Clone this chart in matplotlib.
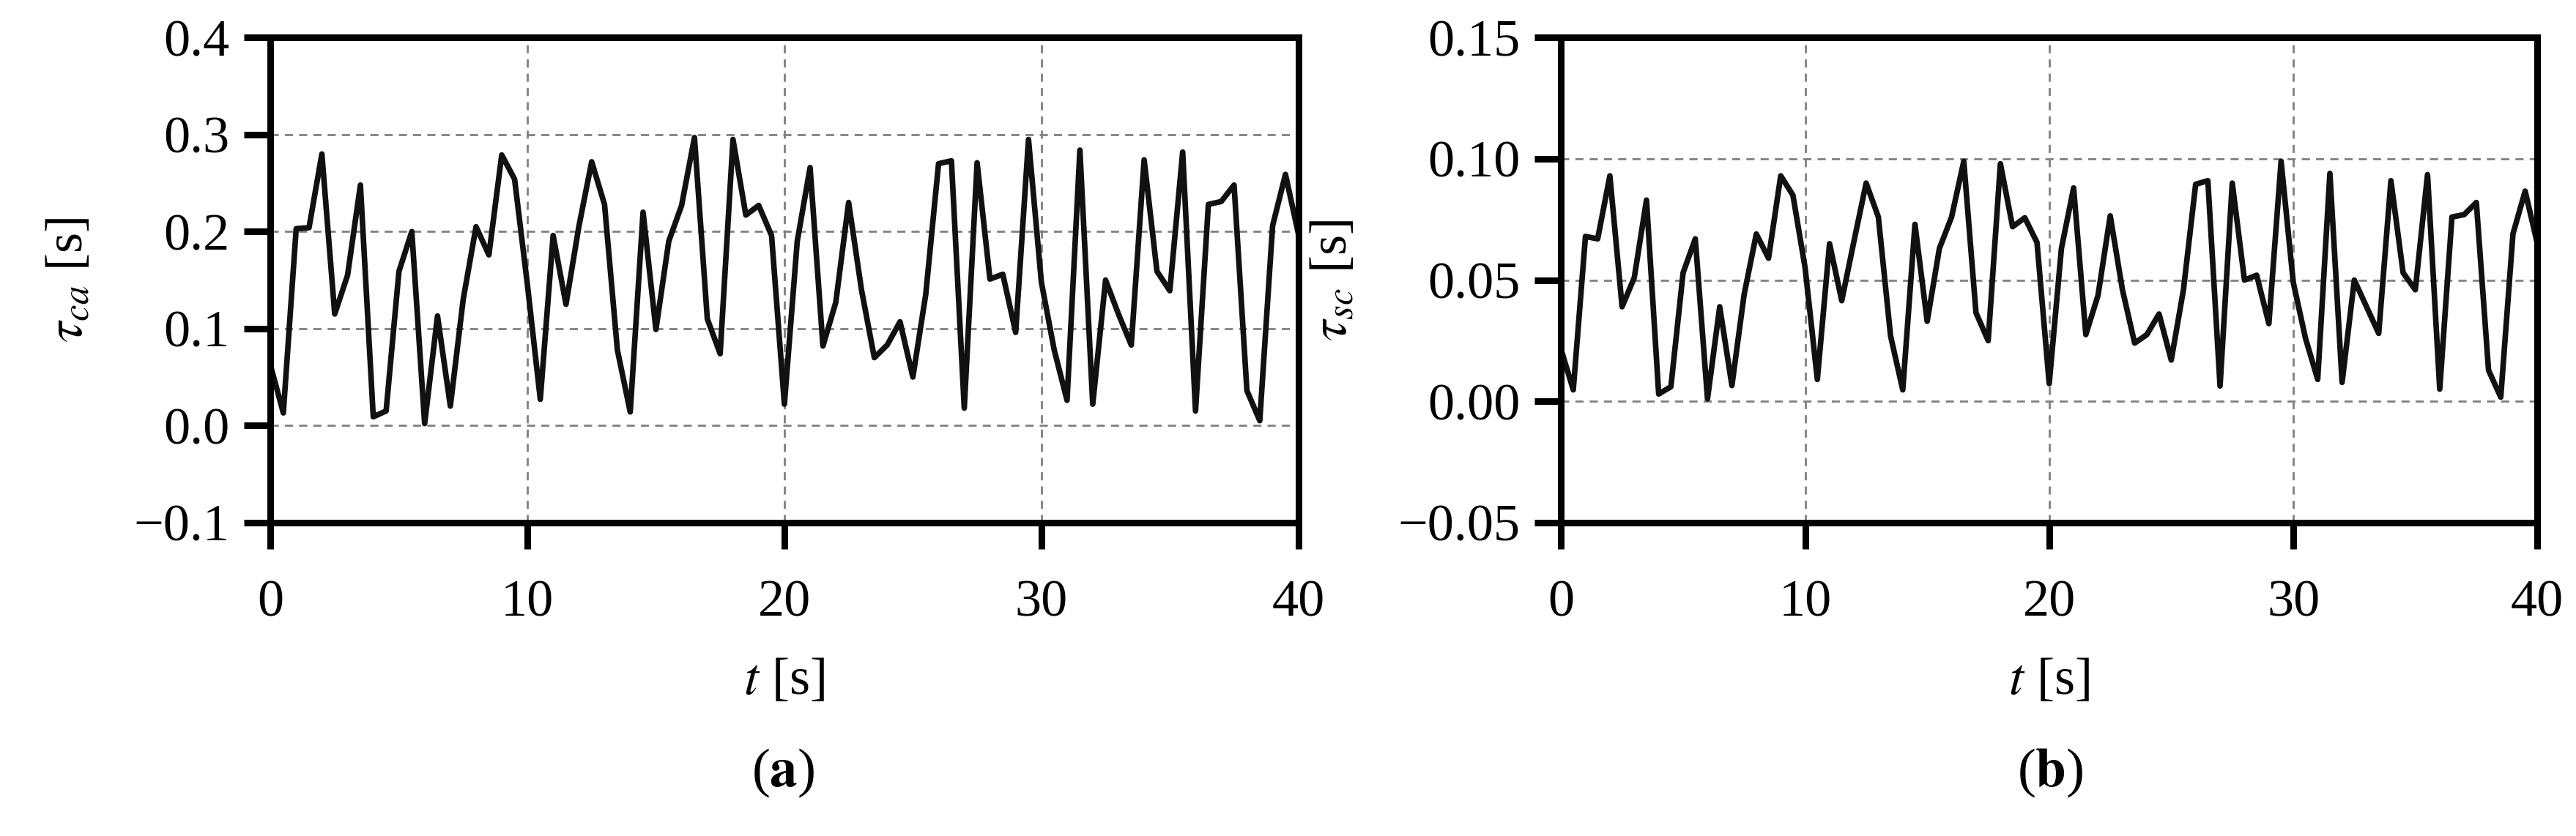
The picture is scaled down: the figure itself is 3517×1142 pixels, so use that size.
"""Two delay traces, tau_ca and tau_sc, over 40 s."""

import matplotlib
matplotlib.use("Agg")
import matplotlib.pyplot as plt
import numpy as np

plt.rcParams["font.family"] = ["Liberation Serif", "DejaVu Serif"]
plt.rcParams["mathtext.fontset"] = "stix"

t = np.arange(0, 40.01, 0.5)

tau_ca = [
    0.062, 0.013, 0.203, 0.204, 0.280, 0.115, 0.155, 0.248, 0.009, 0.015,
    0.159, 0.200, 0.002, 0.113, 0.020, 0.130, 0.205, 0.176, 0.279, 0.254,
    0.145, 0.027, 0.196, 0.125, 0.205, 0.272, 0.228, 0.078, 0.014, 0.220,
    0.099, 0.190, 0.227, 0.297, 0.110, 0.074, 0.295, 0.217, 0.227, 0.196,
    0.022, 0.190, 0.266, 0.082, 0.127, 0.230, 0.140, 0.070, 0.083, 0.107,
    0.050, 0.135, 0.270, 0.273, 0.018, 0.271, 0.151, 0.156, 0.096, 0.295,
    0.148, 0.078, 0.026, 0.284, 0.022, 0.150, 0.115, 0.083, 0.274, 0.159,
    0.139, 0.282, 0.015, 0.228, 0.231, 0.248, 0.036, 0.005, 0.206, 0.259,
    0.198,
]

tau_sc = [
    0.0214, 0.0047, 0.068, 0.067, 0.093, 0.039, 0.051, 0.083, 0.003, 0.006,
    0.053, 0.067, 0.001, 0.039, 0.0065, 0.044, 0.069, 0.059, 0.093, 0.085,
    0.055, 0.009, 0.065, 0.0415, 0.066, 0.090, 0.076, 0.027, 0.0047, 0.073,
    0.033, 0.063, 0.076, 0.099, 0.0365, 0.025, 0.098, 0.072, 0.0757, 0.0655,
    0.0073, 0.063, 0.088, 0.0275, 0.0437, 0.0765, 0.046, 0.024, 0.0275, 0.036,
    0.017, 0.046, 0.0895, 0.091, 0.0063, 0.090, 0.050, 0.052, 0.032, 0.099,
    0.049, 0.026, 0.009, 0.094, 0.0078, 0.050, 0.039, 0.028, 0.091, 0.053,
    0.046, 0.0935, 0.005, 0.076, 0.077, 0.082, 0.0128, 0.0017, 0.069, 0.0867,
    0.065,
]

ca_ticks = [-0.1, 0.0, 0.1, 0.2, 0.3, 0.4]
sc_ticks = [-0.05, 0.0, 0.05, 0.10, 0.15]
x_ticks = [0, 10, 20, 30, 40]

FS = 52


def style_axes(ax, yticks, yfmt):
    ax.set_xlim(0, 40)
    ax.set_ylim(yticks[0], yticks[-1])
    ax.set_xticks(x_ticks)
    ax.set_yticks(yticks)
    ax.set_yticklabels([yfmt.format(v).replace("-", "\u2212") for v in yticks])
    ax.tick_params(direction="out", length=26, width=6.5, labelsize=FS, pad=14)
    ax.tick_params(axis="x", pad=30)
    for s in ax.spines.values():
        s.set_linewidth(6.5)
    ax.grid(True, color="#808080", linestyle=(0, (4, 3)), linewidth=2.0)
    ax.set_xlabel("$t$ [s]", fontsize=FS, labelpad=30)


fig = plt.figure(figsize=(35.17, 11.42), dpi=100)
ax1 = fig.add_axes([0.105, 0.375, 0.399, 0.58])
ax2 = fig.add_axes([0.606, 0.375, 0.379, 0.58])

ax1.plot(t, tau_ca, color="#111111", linewidth=5.5)
style_axes(ax1, ca_ticks, "{:.1f}")
ax1.set_ylabel(r"$\tau_{ca}$ [s]", fontsize=FS, labelpad=40)

ax2.plot(t, tau_sc, color="#111111", linewidth=5.5)
style_axes(ax2, sc_ticks, "{:.2f}")
ax2.set_ylabel(r"$\tau_{sc}$ [s]", fontsize=FS, labelpad=40)

fig.text(0.304, 0.075, r"($\mathbf{a}$)", fontsize=FS + 2, ha="center", va="center")
fig.text(0.796, 0.075, r"($\mathbf{b}$)", fontsize=FS + 2, ha="center", va="center")

fig.savefig("out.png", dpi=100)
